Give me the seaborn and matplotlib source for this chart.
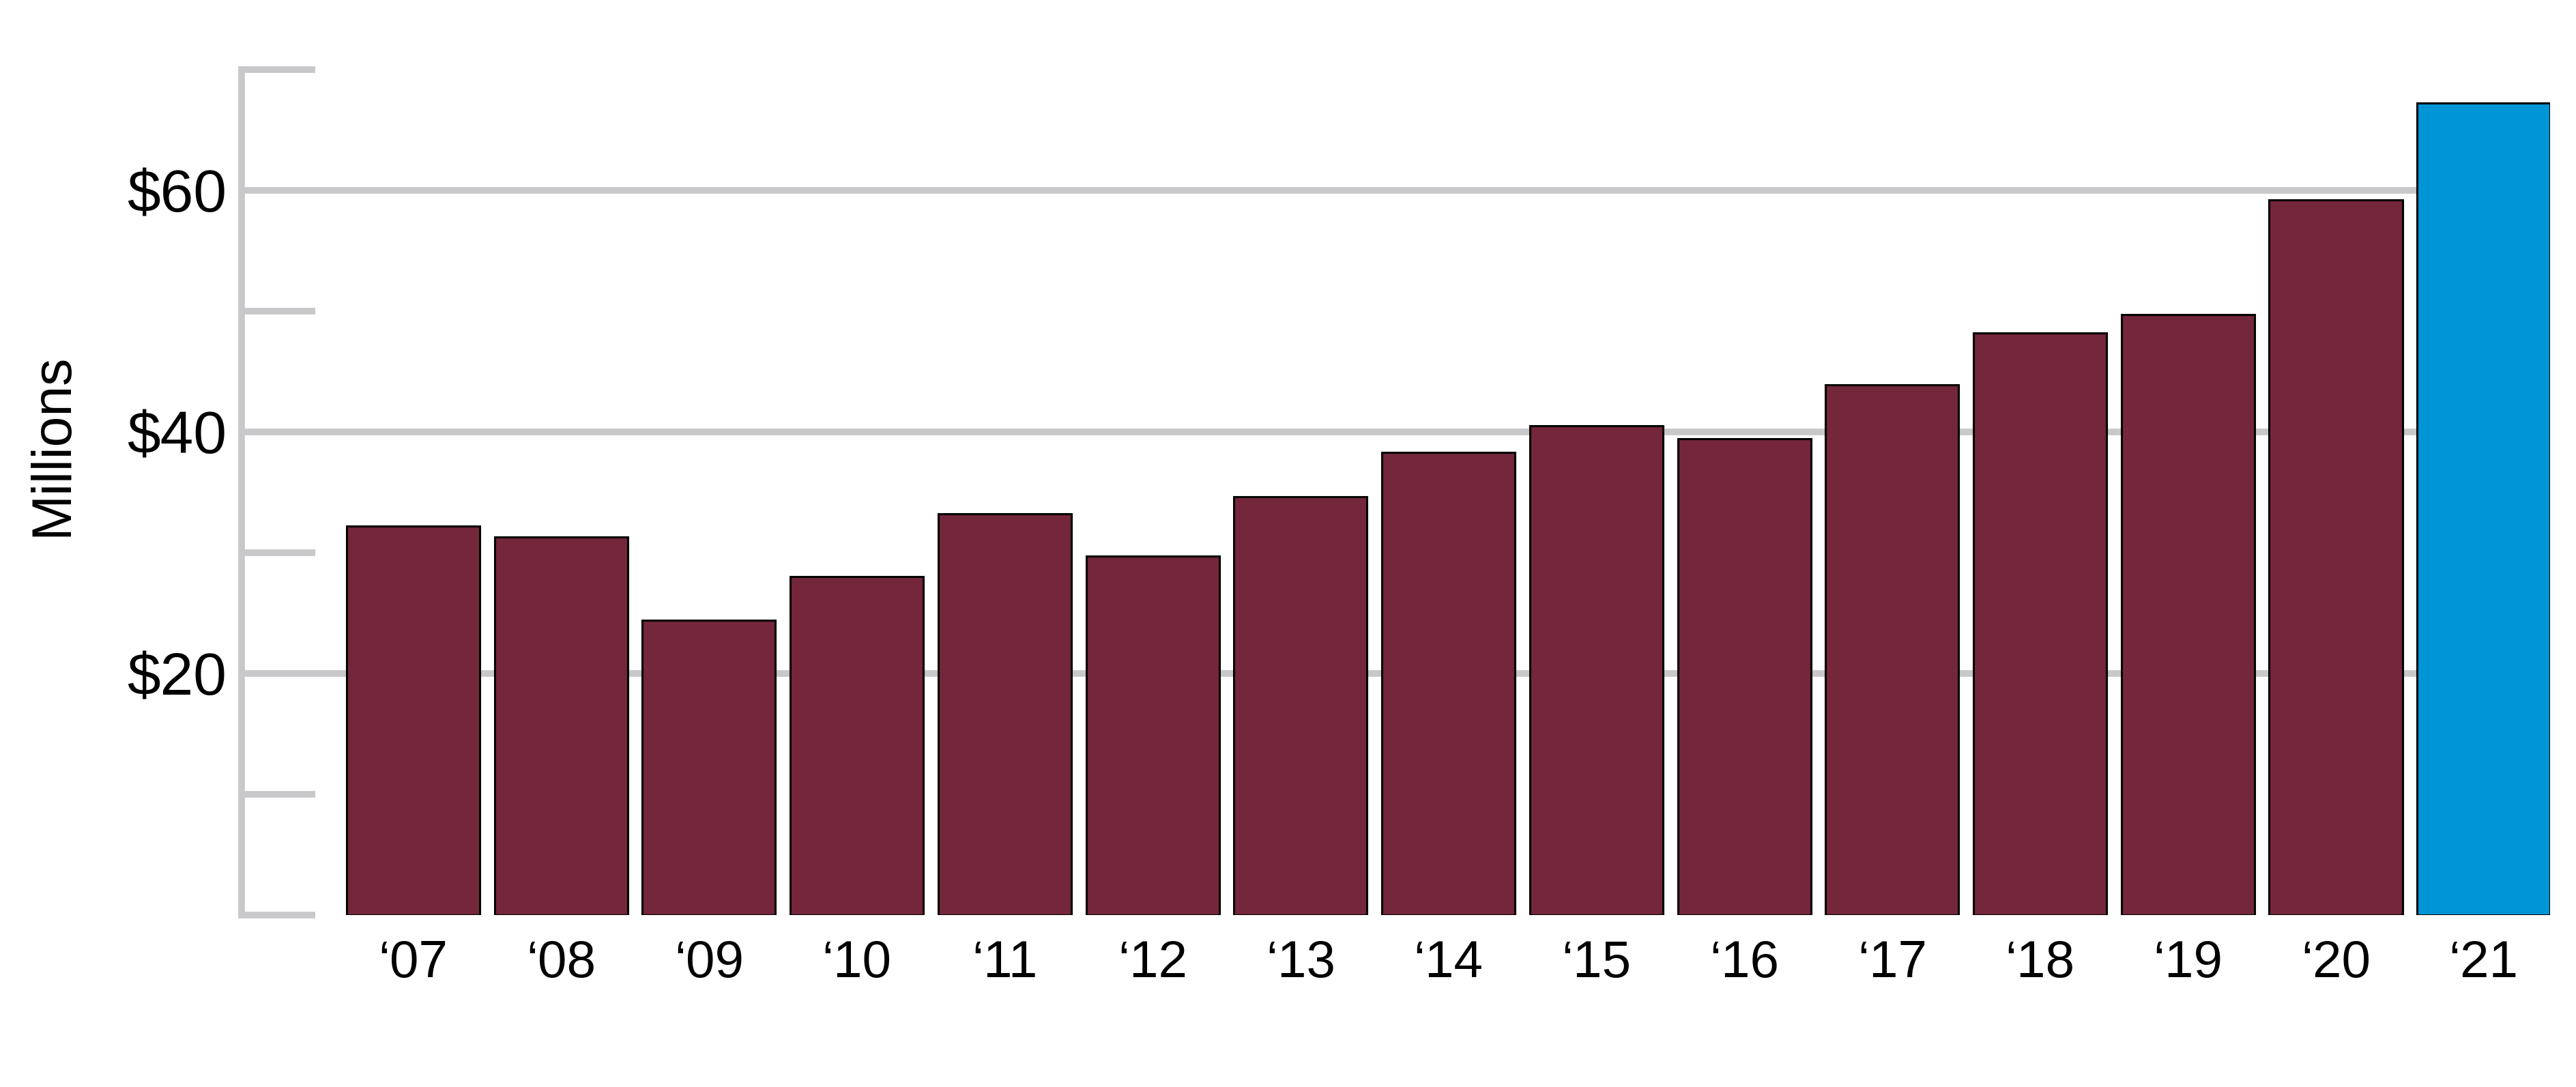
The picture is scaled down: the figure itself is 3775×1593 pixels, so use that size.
# Gráfico de barras: ingresos anuales en millones ('07 a '21)
import matplotlib
matplotlib.use("Agg")
import matplotlib.pyplot as plt
import matplotlib.ticker as ticker
import seaborn as sns

# Datos
anios = ["\u201807", "\u201808", "\u201809", "\u201810", "\u201811", "\u201812", "\u201813",
         "\u201814", "\u201815", "\u201816", "\u201817", "\u201818", "\u201819", "\u201820", "\u201821"]
ingresos = [32.2, 31.3, 24.4, 28.0, 33.2, 29.7, 34.6, 38.3, 40.5, 39.4, 43.9, 48.2, 49.7, 59.2, 67.2]
colores = ["#74263B"] * 14 + ["#0096D6"]

marcas_y = [20, 40, 60]
etiquetas_y = ["$20", "$40", "$60"]
marcas_cortas = [0, 10, 30, 50, 70]

GRIS = "#C8C8CA"

sns.set_theme(style="white")
plt.rcParams["font.family"] = ["Liberation Sans", "DejaVu Sans"]

fig = plt.figure(figsize=(37.75, 15.93), dpi=100)
ax = fig.add_axes([0.0938, 0.1582, 0.8962, 0.778])

sns.barplot(x=anios, y=ingresos, hue=anios, palette=colores, legend=False,
            width=0.9, edgecolor="black", linewidth=2.2, saturation=1, ax=ax)

ax.set_xlim(-1.16, 14.45)
ax.set_ylim(0, 70)

# Ejes y cuadrícula
for lado in ["top", "right", "bottom"]:
    ax.spines[lado].set_visible(False)
ax.spines["left"].set_color(GRIS)
ax.spines["left"].set_linewidth(7)
ax.spines["left"].set_bounds(0, 70)

ax.yaxis.set_major_locator(ticker.FixedLocator(marcas_y))
ax.yaxis.set_major_formatter(ticker.FixedFormatter(etiquetas_y))
ax.yaxis.set_minor_locator(ticker.FixedLocator(marcas_cortas))
ax.set_axisbelow(True)
ax.yaxis.grid(True, which="major", color=GRIS, linewidth=7)
ax.xaxis.grid(False)

ax.tick_params(axis="y", which="major", direction="in", length=0, pad=16,
               labelsize=63, labelcolor="black")
ax.tick_params(axis="y", which="minor", direction="in", length=78, width=7,
               color=GRIS, left=True)
ax.tick_params(axis="x", length=0, pad=26, labelsize=55, labelcolor="black")

ax.set_xlabel("")
ax.set_ylabel("Millions", fontsize=58, color="black")
ax.yaxis.set_label_coords(-0.0705, 0.556)

plt.savefig("out.png", dpi=100, facecolor="white")
plt.close()
